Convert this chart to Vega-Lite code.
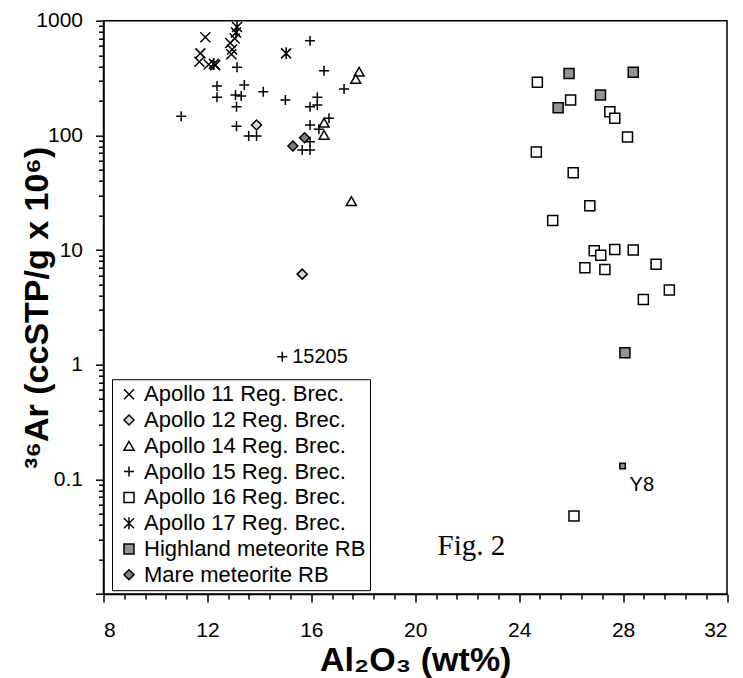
{
  "$schema": "https://vega.github.io/schema/vega-lite/v6.json",
  "width": 623.5,
  "height": 573.3,
  "autosize": {"type": "none"},
  "padding": {"left": 103.5, "top": 20.7, "right": 16, "bottom": 84},
  "background": "white",
  "config": {
    "view": {"stroke": "black", "strokeWidth": 1.5},
    "font": "Liberation Sans",
    "axis": {"domainColor": "black", "domainWidth": 1.5, "tickColor": "black", "tickWidth": 1.5, "grid": false, "labelColor": "black", "titleColor": "black", "labelFont": "Liberation Sans", "titleFont": "Liberation Sans"}
  },
  "datasets": {
    "pts": [
      {"series": "Apollo 11 Reg. Brec.", "al2o3": 11.73, "ar36": 519},
      {"series": "Apollo 11 Reg. Brec.", "al2o3": 11.69, "ar36": 438},
      {"series": "Apollo 11 Reg. Brec.", "al2o3": 11.92, "ar36": 716},
      {"series": "Apollo 11 Reg. Brec.", "al2o3": 12.05, "ar36": 415},
      {"series": "Apollo 11 Reg. Brec.", "al2o3": 12.3, "ar36": 410},
      {"series": "Apollo 11 Reg. Brec.", "al2o3": 12.88, "ar36": 640},
      {"series": "Apollo 11 Reg. Brec.", "al2o3": 12.95, "ar36": 560},
      {"series": "Apollo 11 Reg. Brec.", "al2o3": 12.92, "ar36": 510},
      {"series": "Apollo 11 Reg. Brec.", "al2o3": 13.05, "ar36": 700},
      {"series": "Apollo 12 Reg. Brec.", "al2o3": 13.89, "ar36": 123},
      {"series": "Apollo 12 Reg. Brec.", "al2o3": 15.65, "ar36": 6.16},
      {"series": "Apollo 14 Reg. Brec.", "al2o3": 17.84, "ar36": 359},
      {"series": "Apollo 14 Reg. Brec.", "al2o3": 17.71, "ar36": 310},
      {"series": "Apollo 14 Reg. Brec.", "al2o3": 16.49, "ar36": 129},
      {"series": "Apollo 14 Reg. Brec.", "al2o3": 16.49, "ar36": 100.7},
      {"series": "Apollo 14 Reg. Brec.", "al2o3": 17.54, "ar36": 26.7},
      {"series": "Apollo 15 Reg. Brec.", "al2o3": 10.99, "ar36": 147},
      {"series": "Apollo 15 Reg. Brec.", "al2o3": 12.37, "ar36": 269},
      {"series": "Apollo 15 Reg. Brec.", "al2o3": 12.37, "ar36": 215},
      {"series": "Apollo 15 Reg. Brec.", "al2o3": 13.08, "ar36": 225},
      {"series": "Apollo 15 Reg. Brec.", "al2o3": 13.12, "ar36": 178},
      {"series": "Apollo 15 Reg. Brec.", "al2o3": 13.12, "ar36": 120},
      {"series": "Apollo 15 Reg. Brec.", "al2o3": 13.14, "ar36": 392},
      {"series": "Apollo 15 Reg. Brec.", "al2o3": 13.42, "ar36": 275},
      {"series": "Apollo 15 Reg. Brec.", "al2o3": 13.3, "ar36": 220},
      {"series": "Apollo 15 Reg. Brec.", "al2o3": 13.59, "ar36": 98.6},
      {"series": "Apollo 15 Reg. Brec.", "al2o3": 13.89, "ar36": 98.6},
      {"series": "Apollo 15 Reg. Brec.", "al2o3": 14.15, "ar36": 240},
      {"series": "Apollo 15 Reg. Brec.", "al2o3": 15.0, "ar36": 203},
      {"series": "Apollo 15 Reg. Brec.", "al2o3": 15.95, "ar36": 669},
      {"series": "Apollo 15 Reg. Brec.", "al2o3": 16.49, "ar36": 366},
      {"series": "Apollo 15 Reg. Brec.", "al2o3": 17.26, "ar36": 254},
      {"series": "Apollo 15 Reg. Brec.", "al2o3": 16.23, "ar36": 215},
      {"series": "Apollo 15 Reg. Brec.", "al2o3": 16.23, "ar36": 184},
      {"series": "Apollo 15 Reg. Brec.", "al2o3": 15.95, "ar36": 178},
      {"series": "Apollo 15 Reg. Brec.", "al2o3": 16.68, "ar36": 141},
      {"series": "Apollo 15 Reg. Brec.", "al2o3": 15.95, "ar36": 123},
      {"series": "Apollo 15 Reg. Brec.", "al2o3": 16.29, "ar36": 113},
      {"series": "Apollo 15 Reg. Brec.", "al2o3": 15.65, "ar36": 74.5},
      {"series": "Apollo 15 Reg. Brec.", "al2o3": 15.95, "ar36": 74.5},
      {"series": "Apollo 15 Reg. Brec.", "al2o3": 15.95, "ar36": 88},
      {"series": "Apollo 15 Reg. Brec.", "al2o3": 14.88, "ar36": 1.17, "note": "15205"},
      {"series": "Apollo 16 Reg. Brec.", "al2o3": 24.70, "ar36": 290},
      {"series": "Apollo 16 Reg. Brec.", "al2o3": 25.98, "ar36": 203},
      {"series": "Apollo 16 Reg. Brec.", "al2o3": 27.49, "ar36": 161},
      {"series": "Apollo 16 Reg. Brec.", "al2o3": 27.68, "ar36": 141},
      {"series": "Apollo 16 Reg. Brec.", "al2o3": 28.17, "ar36": 97},
      {"series": "Apollo 16 Reg. Brec.", "al2o3": 24.66, "ar36": 71.5},
      {"series": "Apollo 16 Reg. Brec.", "al2o3": 26.08, "ar36": 47.2},
      {"series": "Apollo 16 Reg. Brec.", "al2o3": 26.72, "ar36": 24.3},
      {"series": "Apollo 16 Reg. Brec.", "al2o3": 25.29, "ar36": 18.1},
      {"series": "Apollo 16 Reg. Brec.", "al2o3": 26.89, "ar36": 9.84},
      {"series": "Apollo 16 Reg. Brec.", "al2o3": 27.14, "ar36": 9.0},
      {"series": "Apollo 16 Reg. Brec.", "al2o3": 27.68, "ar36": 10.1},
      {"series": "Apollo 16 Reg. Brec.", "al2o3": 28.39, "ar36": 10.0},
      {"series": "Apollo 16 Reg. Brec.", "al2o3": 26.53, "ar36": 7.0},
      {"series": "Apollo 16 Reg. Brec.", "al2o3": 27.3, "ar36": 6.77},
      {"series": "Apollo 16 Reg. Brec.", "al2o3": 29.27, "ar36": 7.53},
      {"series": "Apollo 16 Reg. Brec.", "al2o3": 29.78, "ar36": 4.47},
      {"series": "Apollo 16 Reg. Brec.", "al2o3": 28.78, "ar36": 3.71},
      {"series": "Apollo 16 Reg. Brec.", "al2o3": 26.11, "ar36": 0.0478},
      {"series": "Apollo 17 Reg. Brec.", "al2o3": 13.14, "ar36": 880},
      {"series": "Apollo 17 Reg. Brec.", "al2o3": 13.1, "ar36": 790},
      {"series": "Apollo 17 Reg. Brec.", "al2o3": 15.03, "ar36": 519},
      {"series": "Apollo 17 Reg. Brec.", "al2o3": 12.25, "ar36": 420},
      {"series": "Highland meteorite RB", "al2o3": 25.92, "ar36": 347},
      {"series": "Highland meteorite RB", "al2o3": 28.39, "ar36": 355},
      {"series": "Highland meteorite RB", "al2o3": 27.13, "ar36": 225},
      {"series": "Highland meteorite RB", "al2o3": 25.5, "ar36": 174},
      {"series": "Highland meteorite RB", "al2o3": 28.07, "ar36": 1.27},
      {"series": "Highland meteorite RB", "al2o3": 27.98, "ar36": 0.131, "note": "Y8"},
      {"series": "Mare meteorite RB", "al2o3": 15.29, "ar36": 80.7},
      {"series": "Mare meteorite RB", "al2o3": 15.74, "ar36": 95.3}
    ],
    "annot": [{"al2o3": 22.16, "ar36": 0.0218, "text": "Fig. 2"}]
  },
  "resolve": {"axis": {"x": "independent", "y": "independent"}},
  "layer": [
    {
      "data": {"name": "pts"},
      "mark": {"type": "point", "filled": true, "stroke": "black", "strokeWidth": 1.5, "opacity": 1},
      "encoding": {
        "x": {"field": "al2o3", "type": "quantitative", "scale": {"domain": [8, 32], "nice": false, "zero": false},
              "axis": {"values": [8, 12, 16, 20, 24, 28, 32], "tickSize": 8, "labelFontSize": 21, "labelPadding": 17, "title": "Al₂O₃ (wt%)", "titleFontSize": 34, "titleFontWeight": "bold", "titleBaseline": "alphabetic", "titleY": 76, "orient": "bottom"}},
        "y": {"field": "ar36", "type": "quantitative", "scale": {"type": "log", "domain": [0.01, 1000], "nice": false},
              "axis": {"values": [0.01, 0.1, 1, 10, 100, 1000], "tickSize": 8, "labelFontSize": 21, "labelPadding": 13, "format": "~g", "labelExpr": "datum.value < 0.05 ? '' : datum.label", "title": "³⁶Ar (ccSTP/g x 10⁶)", "titleFontSize": 34, "titleFontWeight": "bold", "titleBaseline": "bottom", "titleX": -49.5, "titleY": 286.6, "orient": "left"}},
        "shape": {"field": "series", "type": "nominal",
          "scale": {"domain": ["Apollo 11 Reg. Brec.", "Apollo 12 Reg. Brec.", "Apollo 14 Reg. Brec.", "Apollo 15 Reg. Brec.", "Apollo 16 Reg. Brec.", "Apollo 17 Reg. Brec.", "Highland meteorite RB", "Mare meteorite RB"],
                    "range": ["M-1,-1L1,1M-1,1L1,-1", "diamond", "triangle-up", "M-1,0L1,0M0,-1L0,1", "square", "M-1,-1L1,1M-1,1L1,-1M0,-1.2L0,1.2", "square", "diamond"]},
          "legend": {"title": null, "orient": "none", "legendX": 8.5, "legendY": 358.5, "strokeColor": "black", "fillColor": "white", "padding": 4, "labelFontSize": 22, "labelFont": "Liberation Sans", "labelColor": "black", "rowPadding": 3.8, "symbolStrokeColor": "black", "symbolStrokeWidth": 1.5, "labelLimit": 0, "labelOffset": 4, "symbolOffset": 2}},
        "fill": {"field": "series", "type": "nominal",
          "scale": {"domain": ["Apollo 11 Reg. Brec.", "Apollo 12 Reg. Brec.", "Apollo 14 Reg. Brec.", "Apollo 15 Reg. Brec.", "Apollo 16 Reg. Brec.", "Apollo 17 Reg. Brec.", "Highland meteorite RB", "Mare meteorite RB"],
                    "range": ["transparent", "#d9d9d9", "white", "transparent", "white", "transparent", "#939393", "#808080"]}},
        "size": {"field": "series", "type": "nominal",
          "condition": {"test": "datum.note === 'Y8'", "value": 30},
          "scale": {"domain": ["Apollo 11 Reg. Brec.", "Apollo 12 Reg. Brec.", "Apollo 14 Reg. Brec.", "Apollo 15 Reg. Brec.", "Apollo 16 Reg. Brec.", "Apollo 17 Reg. Brec.", "Highland meteorite RB", "Mare meteorite RB"],
                    "range": [100, 100, 100, 121, 100, 110, 144, 100]}}
      }
    },
    {
      "data": {"name": "pts"},
      "transform": [{"filter": "datum.note === '15205'"}],
      "mark": {"type": "text", "align": "left", "baseline": "middle", "dx": 10, "fontSize": 20, "font": "Liberation Sans", "color": "black"},
      "encoding": {
        "x": {"field": "al2o3", "type": "quantitative", "axis": null},
        "y": {"field": "ar36", "type": "quantitative", "axis": null},
        "text": {"field": "note"}
      }
    },
    {
      "data": {"name": "pts"},
      "transform": [{"filter": "datum.note === 'Y8'"}],
      "mark": {"type": "text", "align": "left", "baseline": "middle", "dx": 7, "dy": 19, "fontSize": 20, "font": "Liberation Sans", "color": "black"},
      "encoding": {
        "x": {"field": "al2o3", "type": "quantitative", "axis": null},
        "y": {"field": "ar36", "type": "quantitative", "axis": null},
        "text": {"field": "note"}
      }
    },
    {
      "data": {"name": "annot"},
      "mark": {"type": "text", "align": "center", "baseline": "alphabetic", "fontSize": 29, "font": "Liberation Serif", "color": "black"},
      "encoding": {
        "x": {"field": "al2o3", "type": "quantitative",
              "axis": {"orient": "bottom", "values": [8.8, 9.6, 10.4, 11.2, 12.8, 13.6, 14.4, 15.2, 16.8, 17.6, 18.4, 19.2, 20.8, 21.6, 22.4, 23.2, 24.8, 25.6, 26.4, 27.2, 28.8, 29.6, 30.4, 31.2], "tickSize": 5, "labels": false, "domain": false, "title": null}},
        "y": {"field": "ar36", "type": "quantitative",
              "axis": {"orient": "left", "values": [0.02, 0.03, 0.04, 0.05, 0.06, 0.07, 0.08, 0.09, 0.2, 0.3, 0.4, 0.5, 0.6, 0.7, 0.8, 0.9, 2, 3, 4, 5, 6, 7, 8, 9, 20, 30, 40, 50, 60, 70, 80, 90, 200, 300, 400, 500, 600, 700, 800, 900], "tickSize": 5, "labels": false, "domain": false, "title": null}},
        "text": {"field": "text"}
      }
    }
  ]
}
